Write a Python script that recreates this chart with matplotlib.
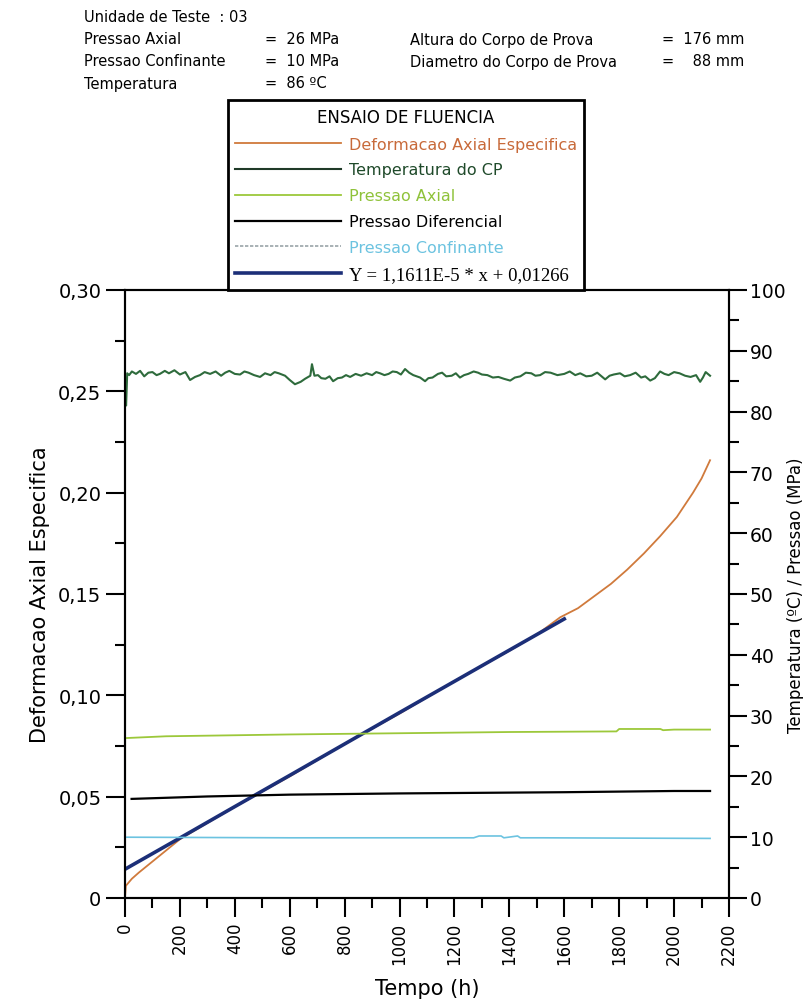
import numpy as np
import matplotlib.pyplot as plt
from matplotlib.ticker import MultipleLocator

# =========================
# data
# =========================
# Deformacao Axial Especifica (left axis)
def_h = [0, 3, 25, 50, 100, 150, 200, 300, 400, 600, 800, 1000, 1200, 1400,
         1500, 1585, 1650, 1705, 1770, 1829, 1890, 1949, 2010, 2069, 2100, 2131]
def_v = [0.0, 0.006, 0.0095, 0.0125, 0.018, 0.0235, 0.029, 0.037, 0.045, 0.060,
         0.076, 0.091, 0.107, 0.122, 0.130, 0.1385, 0.143, 0.1485, 0.155, 0.162,
         0.170, 0.1785, 0.188, 0.200, 0.207, 0.216]

# linear fit line (left axis)
fit_h = [0, 200, 400, 600, 800, 1000, 1200, 1400, 1600]
fit_v = [0.0142, 0.0296, 0.0451, 0.0605, 0.0760, 0.0915, 0.1069, 0.1223, 0.1377]

# Temperatura do CP (right axis, degC)
temp_h = [0, 4, 8, 15, 25, 40, 55, 70, 85, 100, 115, 127, 145, 160, 180, 200, 220,
          237, 255, 273, 290, 310, 330, 350, 365, 380, 400, 419, 435, 450, 470,
          492, 510, 530, 545, 560, 583, 600, 619, 640, 656, 675, 681, 690, 703,
          715, 730, 745, 758, 775, 790, 805, 820, 840, 860, 880, 900, 915, 929,
          945, 960, 975, 990, 1005, 1020, 1035, 1050, 1075, 1093, 1105, 1120,
          1140, 1155, 1170, 1190, 1205, 1220, 1235, 1250, 1270, 1286, 1300, 1320,
          1340, 1360, 1380, 1403, 1420, 1440, 1460, 1480, 1495, 1512, 1530, 1550,
          1575, 1600, 1620, 1640, 1658, 1680, 1700, 1720, 1749, 1765, 1780, 1803,
          1820, 1840, 1860, 1880, 1895, 1913, 1930, 1949, 1965, 1980, 2000, 2020,
          2040, 2060, 2080, 2095, 2105, 2115, 2131]
temp_c = [82.5, 81.0, 86.3, 86.0, 86.6, 86.2, 86.7, 85.8, 86.4, 86.5, 86.0, 86.2,
          86.7, 86.3, 86.8, 86.1, 86.5, 85.2, 85.7, 86.0, 86.5, 86.2, 86.6, 85.9,
          86.4, 86.7, 86.2, 86.1, 86.6, 86.4, 86.0, 85.7, 86.3, 86.0, 86.5, 86.3,
          85.9, 85.2, 84.5, 84.9, 85.4, 85.9, 87.8, 85.9, 86.0, 85.5, 85.4, 85.8,
          85.0, 85.5, 85.6, 86.0, 85.7, 86.2, 85.9, 86.3, 86.0, 86.5, 86.3, 86.0,
          86.2, 86.6, 86.5, 86.1, 87.0, 86.4, 86.0, 85.6, 85.0, 85.5, 85.6, 86.2,
          86.4, 85.8, 85.9, 86.3, 85.6, 86.0, 86.2, 86.6, 86.4, 86.1, 86.0, 85.6,
          85.7, 85.4, 85.1, 85.6, 85.8, 86.4, 86.3, 85.9, 86.0, 86.5, 86.4, 86.0,
          86.2, 86.6, 86.0, 86.3, 85.8, 85.9, 86.4, 85.3, 85.9, 86.1, 86.3, 85.8,
          86.0, 86.4, 85.6, 85.8, 85.1, 85.5, 86.6, 86.2, 86.0, 86.5, 86.3, 85.9,
          85.7, 86.0, 84.9, 85.6, 86.5, 85.9]

# Pressao Axial (MPa)
axial_h = [0, 0.5, 150, 600, 1000, 1400, 1790, 1800, 1950, 1960, 2000, 2131]
axial_p = [0.0, 26.3, 26.6, 26.9, 27.1, 27.3, 27.4, 27.8, 27.8, 27.6, 27.7, 27.7]

# Pressao Diferencial (MPa)
dif_h = [24, 300, 600, 1000, 1300, 1600, 2000, 2131]
dif_p = [16.3, 16.7, 17.0, 17.2, 17.3, 17.4, 17.6, 17.6]

# Pressao Confinante (MPa)
conf_h = [0, 600, 1270, 1290, 1370, 1380, 1430, 1440, 1520, 2131]
conf_p = [10.0, 9.9, 9.9, 10.2, 10.2, 9.9, 10.2, 9.9, 9.9, 9.8]

x_ticks = list(range(0, 2201, 200))
left_ticks = [0, 0.05, 0.10, 0.15, 0.20, 0.25, 0.30]
left_labels = ["0", "0,05", "0,10", "0,15", "0,20", "0,25", "0,30"]
right_ticks = list(range(0, 101, 10))

header = [
    ("Unidade de Teste  : 03", "", "", ""),
    ("Pressao Axial", "=  26 MPa", "Altura do Corpo de Prova", "=  176 mm"),
    ("Pressao Confinante", "=  10 MPa", "Diametro do Corpo de Prova", "=    88 mm"),
    ("Temperatura", "=  86 ºC", "", ""),
]

c_def = "#d07a3c"
c_temp = "#2e6b3c"
c_axial = "#9cc83a"
c_dif = "black"
c_conf = "#6cc3e0"
c_fit = "#1c2f78"

plt.rcParams['font.family'] = ['DejaVu Sans']

fig = plt.figure(figsize=(8.04, 10.03), dpi=100)
ax = fig.add_axes([125/804, 1 - 899/1003, 604/804, 608/1003])
ax2 = ax.twinx()

l_def, = ax.plot(def_h, def_v, color=c_def, lw=1.3, zorder=3)
l_fit, = ax.plot(fit_h, fit_v, color=c_fit, lw=2.6, zorder=4)

l_temp, = ax2.plot(temp_h, temp_c, color=c_temp, lw=1.5)
l_axial, = ax2.plot(axial_h, axial_p, color=c_axial, lw=1.3)
l_dif, = ax2.plot(dif_h, dif_p, color=c_dif, lw=1.6)
l_conf, = ax2.plot(conf_h, conf_p, color=c_conf, lw=1.2)

ax.set_xlim(0, 2200)
ax.set_ylim(0, 0.30)
ax2.set_ylim(0, 100)

ax.set_xticks(x_ticks)
ax.set_xticklabels([str(t) for t in x_ticks], rotation=90, fontsize=12)
ax.xaxis.set_minor_locator(MultipleLocator(100))
ax.set_yticks(left_ticks)
ax.set_yticklabels(left_labels, fontsize=14)
ax.yaxis.set_minor_locator(MultipleLocator(0.025))
ax2.set_yticks(right_ticks)
ax2.set_yticklabels([str(t) for t in right_ticks], fontsize=13.5)
ax2.yaxis.set_minor_locator(MultipleLocator(5))

for a in (ax, ax2):
    a.tick_params(which='major', direction='out', length=14, width=1.5, pad=3)
    a.tick_params(which='minor', direction='out', length=7, width=1.5)
    for s in a.spines.values():
        s.set_linewidth(1.5)
ax2.tick_params(which='major', length=13, pad=2)

ax.set_xlabel("Tempo (h)", fontsize=15, labelpad=10)
ax.set_ylabel("Deformacao Axial Especifica", fontsize=15, labelpad=6)
ax2.set_ylabel("Temperatura (ºC) / Pressao (MPa)", fontsize=12)
ax2.yaxis.set_label_coords(787/604 - 125/604 + 0.0, 0.5)

# header block
rows_y = [17, 40, 62, 84]
for (a, b, c, d), yy in zip(header, rows_y):
    fy = 1 - yy/1003
    fig.text(84/804, fy, a, fontsize=10.5, va='center')
    fig.text(265/804, fy, b, fontsize=10.5, va='center')
    fig.text(410/804, fy, c, fontsize=10.5, va='center')
    fig.text(662/804, fy, d, fontsize=10.5, va='center')

# legend
handles = [l_def, l_temp, l_axial, l_dif, l_conf, l_fit]
labels = ["Deformacao Axial Especifica", "Temperatura do CP", "Pressao Axial",
          "Pressao Diferencial", "Pressao Confinante", "Y = 1,1611E-5 * x + 0,01266"]
txt_colors = ["#c86a3a", "#1f4a2a", "#8fc23a", "black", "#6cc3e0", "black"]
leg = ax2.legend(handles, labels, title="ENSAIO DE FLUENCIA", loc='lower left',
                 bbox_to_anchor=(228/804, 1 - 291/1003), bbox_transform=fig.transFigure,
                 fontsize=11.5, title_fontsize=12, handlelength=6.6, handletextpad=0.5,
                 labelspacing=0.68, borderpad=0.45, borderaxespad=0, fancybox=False,
                 framealpha=1, edgecolor='black')
leg.get_frame().set_linewidth(2)
for t, c in zip(leg.get_texts(), txt_colors):
    t.set_color(c)
leg.get_texts()[-1].set_family('Liberation Serif')
leg.get_texts()[-1].set_fontsize(13.5)
leg.get_lines()[1].set_color("#1f3a28")
leg.get_lines()[4].set_color("#9aa4a8")
leg.get_lines()[4].set_linestyle((0, (2, 1)))

fig.savefig("out.png", dpi=100)
